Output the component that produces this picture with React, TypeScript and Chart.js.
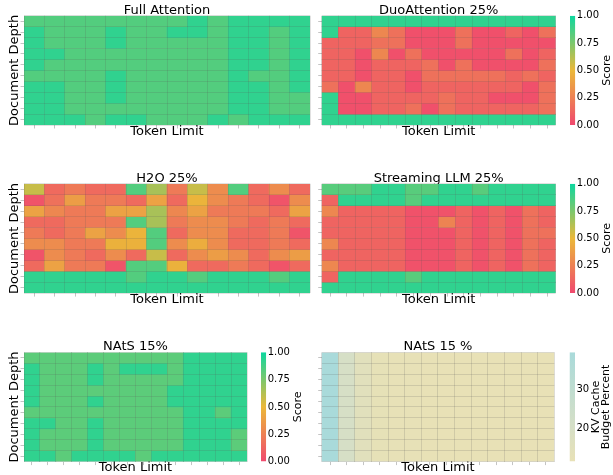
import React, { useEffect, useRef } from 'react';
import { Chart, registerables } from 'chart.js';

Chart.register(...registerables);
Chart.defaults.font.family = '"DejaVu Sans", sans-serif';
Chart.defaults.color = '#000';

// ---- data ----
const tokenLimits = ['1', '2', '3', '4', '5', '6', '7', '8', '9', '10', '11', '12', '13', '14'];
const depthLabels = ['0', '1', '2', '3', '4', '5', '6', '7', '8', '9'];

const fullAttention: number[][] = [
  [0.84, 0.84, 0.84, 0.84, 0.84, 0.84, 0.84, 0.84, 0.92, 0.84, 0.92, 0.92, 0.92, 0.92],
  [0.92, 0.84, 0.84, 0.84, 0.92, 0.84, 0.84, 0.92, 0.92, 0.84, 0.92, 0.92, 0.84, 0.92],
  [0.92, 0.84, 0.84, 0.84, 0.92, 0.84, 0.84, 0.84, 0.84, 0.84, 0.92, 0.92, 0.84, 0.92],
  [0.92, 0.92, 0.84, 0.84, 0.84, 0.84, 0.84, 0.84, 0.84, 0.84, 0.92, 0.92, 0.84, 0.92],
  [0.92, 0.84, 0.84, 0.84, 0.84, 0.84, 0.84, 0.84, 0.84, 0.84, 0.92, 0.92, 0.84, 0.92],
  [0.84, 0.84, 0.84, 0.84, 0.92, 0.84, 0.84, 0.84, 0.84, 0.84, 0.92, 0.84, 0.84, 0.92],
  [0.92, 0.92, 0.84, 0.84, 0.92, 0.84, 0.84, 0.84, 0.84, 0.84, 0.92, 0.92, 0.84, 0.92],
  [0.92, 0.92, 0.84, 0.84, 0.92, 0.84, 0.84, 0.84, 0.84, 0.84, 0.92, 0.92, 0.84, 0.84],
  [0.92, 0.92, 0.84, 0.84, 0.84, 0.84, 0.84, 0.84, 0.84, 0.84, 0.92, 0.92, 0.84, 0.84],
  [0.92, 0.92, 0.92, 0.84, 0.92, 0.92, 0.84, 0.84, 0.84, 0.92, 0.84, 0.92, 0.92, 0.92],
];

const duoAttention: number[][] = [
  [0.92, 0.92, 0.92, 0.92, 0.92, 0.92, 0.92, 0.92, 0.92, 0.92, 0.92, 0.92, 0.92, 0.92],
  [0.92, 0.12, 0.12, 0.28, 0.18, 0.03, 0.03, 0.03, 0.18, 0.03, 0.03, 0.12, 0.03, 0.18],
  [0.12, 0.12, 0.12, 0.18, 0.18, 0.03, 0.03, 0.03, 0.18, 0.03, 0.03, 0.03, 0.03, 0.03],
  [0.12, 0.12, 0.03, 0.28, 0.03, 0.18, 0.03, 0.03, 0.03, 0.03, 0.03, 0.18, 0.03, 0.12],
  [0.12, 0.12, 0.03, 0.12, 0.12, 0.12, 0.18, 0.03, 0.18, 0.03, 0.03, 0.03, 0.03, 0.18],
  [0.12, 0.12, 0.03, 0.12, 0.12, 0.03, 0.18, 0.18, 0.18, 0.18, 0.18, 0.12, 0.18, 0.12],
  [0.18, 0.03, 0.28, 0.12, 0.12, 0.03, 0.12, 0.12, 0.12, 0.12, 0.12, 0.12, 0.03, 0.18],
  [0.92, 0.03, 0.03, 0.12, 0.12, 0.12, 0.12, 0.18, 0.12, 0.12, 0.03, 0.03, 0.03, 0.18],
  [0.92, 0.03, 0.03, 0.12, 0.12, 0.18, 0.03, 0.18, 0.12, 0.12, 0.12, 0.12, 0.12, 0.18],
  [0.92, 0.92, 0.92, 0.92, 0.92, 0.92, 0.92, 0.92, 0.92, 0.92, 0.92, 0.92, 0.92, 0.92],
];

const h2o: number[][] = [
  [0.58, 0.15, 0.22, 0.15, 0.15, 0.84, 0.65, 0.22, 0.58, 0.30, 0.84, 0.15, 0.30, 0.15],
  [0.05, 0.18, 0.38, 0.22, 0.22, 0.15, 0.40, 0.15, 0.48, 0.30, 0.22, 0.15, 0.05, 0.30],
  [0.40, 0.28, 0.22, 0.22, 0.40, 0.40, 0.65, 0.28, 0.40, 0.22, 0.22, 0.22, 0.15, 0.40],
  [0.15, 0.15, 0.22, 0.22, 0.22, 0.84, 0.65, 0.22, 0.30, 0.30, 0.22, 0.15, 0.22, 0.15],
  [0.22, 0.15, 0.22, 0.40, 0.30, 0.48, 0.84, 0.15, 0.30, 0.30, 0.15, 0.15, 0.22, 0.05],
  [0.30, 0.30, 0.22, 0.22, 0.47, 0.47, 0.84, 0.30, 0.45, 0.30, 0.15, 0.15, 0.22, 0.15],
  [0.05, 0.30, 0.22, 0.15, 0.30, 0.15, 0.58, 0.15, 0.30, 0.38, 0.30, 0.15, 0.30, 0.38],
  [0.15, 0.40, 0.22, 0.22, 0.05, 0.84, 0.84, 0.47, 0.15, 0.15, 0.22, 0.15, 0.05, 0.15],
  [0.92, 0.92, 0.92, 0.92, 0.92, 0.84, 0.92, 0.92, 0.84, 0.92, 0.92, 0.92, 0.84, 0.92],
  [0.92, 0.92, 0.92, 0.92, 0.92, 0.92, 0.92, 0.92, 0.92, 0.92, 0.92, 0.92, 0.92, 0.92],
];

const streamingLLM: number[][] = [
  [0.83, 0.83, 0.83, 0.92, 0.92, 0.83, 0.83, 0.92, 0.92, 0.83, 0.92, 0.92, 0.92, 0.92],
  [0.12, 0.92, 0.92, 0.92, 0.92, 0.83, 0.92, 0.92, 0.92, 0.92, 0.92, 0.92, 0.92, 0.92],
  [0.28, 0.12, 0.12, 0.12, 0.12, 0.04, 0.04, 0.04, 0.12, 0.04, 0.12, 0.04, 0.18, 0.12],
  [0.12, 0.12, 0.12, 0.12, 0.12, 0.04, 0.04, 0.26, 0.12, 0.04, 0.12, 0.04, 0.18, 0.12],
  [0.12, 0.12, 0.12, 0.12, 0.12, 0.04, 0.04, 0.04, 0.12, 0.04, 0.12, 0.04, 0.18, 0.18],
  [0.28, 0.12, 0.12, 0.12, 0.12, 0.04, 0.04, 0.04, 0.12, 0.04, 0.12, 0.04, 0.18, 0.12],
  [0.12, 0.12, 0.12, 0.12, 0.12, 0.04, 0.04, 0.04, 0.12, 0.04, 0.12, 0.04, 0.18, 0.12],
  [0.28, 0.12, 0.12, 0.12, 0.12, 0.04, 0.04, 0.04, 0.12, 0.04, 0.12, 0.04, 0.18, 0.12],
  [0.12, 0.92, 0.92, 0.92, 0.92, 0.83, 0.92, 0.92, 0.92, 0.92, 0.92, 0.92, 0.92, 0.92],
  [0.92, 0.92, 0.92, 0.92, 0.92, 0.92, 0.92, 0.92, 0.92, 0.92, 0.92, 0.92, 0.92, 0.92],
];

const nats: number[][] = [
  [0.82, 0.82, 0.82, 0.82, 0.82, 0.82, 0.82, 0.82, 0.82, 0.82, 0.92, 0.92, 0.92, 0.92],
  [0.92, 0.82, 0.82, 0.82, 0.92, 0.82, 0.92, 0.92, 0.92, 0.82, 0.92, 0.92, 0.92, 0.92],
  [0.92, 0.82, 0.82, 0.82, 0.92, 0.82, 0.82, 0.82, 0.82, 0.82, 0.92, 0.92, 0.92, 0.92],
  [0.92, 0.82, 0.82, 0.82, 0.82, 0.82, 0.82, 0.82, 0.82, 0.92, 0.92, 0.92, 0.92, 0.92],
  [0.92, 0.82, 0.82, 0.82, 0.92, 0.82, 0.82, 0.82, 0.82, 0.92, 0.92, 0.92, 0.92, 0.92],
  [0.82, 0.82, 0.82, 0.82, 0.82, 0.82, 0.82, 0.82, 0.82, 0.82, 0.92, 0.92, 0.82, 0.92],
  [0.92, 0.92, 0.82, 0.82, 0.92, 0.82, 0.82, 0.82, 0.82, 0.82, 0.92, 0.92, 0.92, 0.92],
  [0.92, 0.82, 0.82, 0.82, 0.92, 0.82, 0.82, 0.82, 0.82, 0.82, 0.92, 0.92, 0.92, 0.82],
  [0.92, 0.82, 0.82, 0.82, 0.92, 0.82, 0.82, 0.82, 0.82, 0.82, 0.92, 0.92, 0.92, 0.82],
  [0.92, 0.92, 0.82, 0.92, 0.92, 0.92, 0.92, 0.82, 0.92, 0.92, 0.92, 0.92, 0.92, 0.92],
];

// KV cache budget percent per token-limit column (same at every depth)
const natsBudget = [39.2, 20.5, 15.0, 12.6, 12.3, 12.1, 12.0, 11.9, 11.8, 11.8, 11.8, 11.8, 11.8, 11.8];
const budgetTicks = [20, 30];
const scoreTicks = [0, 0.25, 0.5, 0.75, 1];

// ---- colour maps ----
const scoreStops: [number, string][] = [[0, '#F0496E'], [0.5, '#EBB839'], [1, '#0CD79F']];
const budgetStops: [number, string][] = [[0, '#E8E1B6'], [0.317, '#D6DFC6'], [1, '#A9DADA']];

function makeCmap(stops: [number, string][]) {
  const s = stops.map(([t, h]) => [t, parseInt(h.slice(1, 3), 16), parseInt(h.slice(3, 5), 16), parseInt(h.slice(5, 7), 16)]);
  return (t: number) => {
    const x = Math.max(0, Math.min(1, t));
    let i = 0;
    while (i < s.length - 2 && x > s[i + 1][0]) i++;
    const a = s[i], b = s[i + 1];
    const f = (x - a[0]) / (b[0] - a[0]);
    const c = [1, 2, 3].map((k) => Math.round(a[k] + (b[k] - a[k]) * f));
    return `rgb(${c[0]},${c[1]},${c[2]})`;
  };
}
const scoreCmap = makeCmap(scoreStops);
const budgetCmap = makeCmap(budgetStops);
const budgetMin = Math.min(...natsBudget);
const budgetMax = Math.max(...natsBudget);
const scoreColor = (v: number) => scoreCmap(v);
const budgetColor = (v: number) => budgetCmap((v - budgetMin) / (budgetMax - budgetMin));

const GRID = 'rgba(90,90,90,0.18)';
const TICK = 'rgba(90,90,90,0.45)';

type Rect = { ax: number; ay: number; aw: number; ah: number };
type Box = { left: number; top: number; width: number; height: number };

function Heatmap({ values, title, showY, colorOf, area, box }: { values: number[][]; title: string; showY: boolean; colorOf: (v: number) => string; area: Rect; box: Box }) {
  const ref = useRef<HTMLCanvasElement>(null);
  useEffect(() => {
    const { ax, ay, aw, ah } = area;
    const { left, top, width, height } = box;
    const tTop = ay - 5.5 - top - 5.2;
    const tBottom = ay - top - 10.4 - tTop;
    const xH = 13;
    const padRight = left + width - (ax + aw);
    const padBottom = height - (ay + ah - top) - xH;
    const yW = ax - left;
    const chart = new Chart(ref.current as HTMLCanvasElement, {
      type: 'bar',
      data: {
        labels: tokenLimits,
        datasets: values.map((row, r) => ({
          data: row.map(() => [r, r + 1]),
          backgroundColor: row.map(colorOf),
          borderWidth: 0,
          grouped: false,
          barPercentage: 1,
          categoryPercentage: 1,
          xAxisID: 'x',
          yAxisID: 'y',
        })),
      } as any,
      options: {
        responsive: false,
        animation: false,
        devicePixelRatio: 1,
        events: [],
        layout: { padding: { left: 0, top: 0, right: padRight, bottom: padBottom } },
        plugins: {
          legend: { display: false },
          tooltip: { enabled: false },
          title: {
            display: true,
            text: title,
            fullSize: false,
            color: '#000',
            font: { size: 13, lineHeight: 0.8, weight: 'normal' },
            padding: { top: tTop, bottom: tBottom },
          },
        },
        scales: {
          x: {
            type: 'category',
            offset: true,
            grid: { offset: true, z: 1, drawTicks: false, color: GRID, lineWidth: 1 },
            ticks: { display: false },
            border: { display: false },
            afterFit: (s: any) => { s.height = 0; },
          },
          xt: {
            type: 'category',
            labels: tokenLimits,
            position: 'bottom',
            offset: true,
            grid: { offset: false, drawOnChartArea: false, tickLength: 3.5, color: TICK, lineWidth: 0.8 },
            ticks: { display: false },
            border: { display: false },
            title: { display: true, text: 'Token Limit', color: '#000', font: { size: 13, lineHeight: 1 }, padding: 0 },
            afterFit: (s: any) => { s.height = xH; },
          },
          y: {
            type: 'linear',
            min: 0,
            max: depthLabels.length,
            reverse: true,
            ticks: { display: false, stepSize: 1 },
            grid: { z: 1, drawTicks: false, color: GRID, lineWidth: 1 },
            border: { display: false },
            afterFit: (s: any) => { s.width = 0; },
          },
          yt: {
            type: 'category',
            labels: depthLabels,
            position: 'left',
            offset: true,
            grid: { offset: false, drawOnChartArea: false, tickLength: 3.5, color: TICK, lineWidth: 0.8 },
            ticks: { display: false },
            border: { display: false },
            title: { display: showY, text: 'Document Depth', color: '#000', font: { size: 13, lineHeight: 1.2 }, padding: { top: 6.7, bottom: 0 } },
            afterFit: (s: any) => { s.width = yW; },
          },
        },
      } as any,
    });
    return () => chart.destroy();
  }, []);
  return (
    <canvas
      ref={ref}
      width={box.width}
      height={box.height}
      style={{ position: 'absolute', left: box.left, top: box.top, width: box.width, height: box.height }}
    />
  );
}

function ColorBar({ stops, min, max, ticks, fmt, labels, labelOffsets, area, box }: { stops: [number, string][]; min: number; max: number; ticks: number[]; fmt: (v: number) => string; labels: string[]; labelOffsets: number[]; area: Rect; box: Box }) {
  const ref = useRef<HTMLCanvasElement>(null);
  useEffect(() => {
    const { ax, ay, aw, ah } = area;
    const { left, top, width, height } = box;
    const labelPlugin = {
      id: 'cbLabel',
      afterDraw(chart: any) {
        const ctx = chart.ctx;
        const ca = chart.chartArea;
        const cy = (ca.top + ca.bottom) / 2;
        ctx.save();
        ctx.fillStyle = '#000';
        ctx.font = '11px "DejaVu Sans", sans-serif';
        ctx.textAlign = 'center';
        ctx.textBaseline = 'middle';
        labels.forEach((t, i) => {
          ctx.save();
          ctx.translate(ca.right + labelOffsets[i], cy);
          ctx.rotate(-Math.PI / 2);
          ctx.fillText(t, 0, 0);
          ctx.restore();
        });
        ctx.restore();
      },
    };
    const chart = new Chart(ref.current as HTMLCanvasElement, {
      type: 'bar',
      data: {
        labels: ['cb'],
        datasets: [
          {
            data: [[min, max]],
            backgroundColor: (c: any) => {
              const ca = c.chart.chartArea;
              if (!ca) return stops[0][1];
              const g = c.chart.ctx.createLinearGradient(0, ca.bottom, 0, ca.top);
              stops.forEach(([t, col]) => g.addColorStop(t, col));
              return g;
            },
            borderWidth: 0,
            barPercentage: 1,
            categoryPercentage: 1,
            inflateAmount: 0,
          },
        ],
      } as any,
      options: {
        responsive: false,
        animation: false,
        devicePixelRatio: 1,
        events: [],
        layout: { padding: { left: ax - left, top: ay - top, right: 0, bottom: top + height - (ay + ah) } },
        plugins: { legend: { display: false }, tooltip: { enabled: false }, title: { display: false } },
        scales: {
          x: { type: 'category', display: false, offset: true },
          y: {
            type: 'linear',
            position: 'right',
            min,
            max,
            grid: { display: false, drawTicks: false, tickLength: 0 },
            border: { display: false },
            ticks: { color: '#000', font: { size: 10 }, padding: 1.5, callback: (v: any) => fmt(Number(v)) },
            afterBuildTicks: (s: any) => { s.ticks = ticks.map((v) => ({ value: v })); },
            afterFit: (s: any) => { s.width = left + width - (ax + aw); },
          },
        },
      } as any,
      plugins: [labelPlugin],
    });
    return () => chart.destroy();
  }, []);
  return (
    <canvas
      ref={ref}
      width={box.width}
      height={box.height}
      style={{ position: 'absolute', left: box.left, top: box.top, width: box.width, height: box.height }}
    />
  );
}

const budgetRows = depthLabels.map(() => natsBudget);

export default function App() {
  const AH = 109.3;
  const scoreFmt = (v: number) => v.toFixed(2);
  const budgetFmt = (v: number) => String(Math.round(v));
  return (
    <div style={{ position: 'fixed', left: 0, top: 0, width: 613, height: 475, overflow: 'hidden', background: '#fff' }}>
      <Heatmap values={fullAttention} title="Full Attention" showY colorOf={scoreColor}
        area={{ ax: 24, ay: 15.7, aw: 286, ah: AH }} box={{ left: 0, top: 0, width: 313, height: 140 }} />
      <Heatmap values={duoAttention} title="DuoAttention 25%" showY={false} colorOf={scoreColor}
        area={{ ax: 321.7, ay: 15.7, aw: 234, ah: AH }} box={{ left: 316, top: 0, width: 244, height: 140 }} />
      <ColorBar stops={scoreStops} min={0} max={1} ticks={scoreTicks} fmt={scoreFmt} labels={['Score']} labelOffsets={[32.3]}
        area={{ ax: 570, ay: 15.7, aw: 5.3, ah: AH }} box={{ left: 566, top: 7, width: 47, height: 126 }} />

      <Heatmap values={h2o} title="H2O 25%" showY colorOf={scoreColor}
        area={{ ax: 24, ay: 183.8, aw: 286, ah: AH }} box={{ left: 0, top: 168, width: 313, height: 141 }} />
      <Heatmap values={streamingLLM} title="Streaming LLM 25%" showY={false} colorOf={scoreColor}
        area={{ ax: 321.7, ay: 183.8, aw: 234, ah: AH }} box={{ left: 316, top: 168, width: 244, height: 141 }} />
      <ColorBar stops={scoreStops} min={0} max={1} ticks={scoreTicks} fmt={scoreFmt} labels={['Score']} labelOffsets={[32.3]}
        area={{ ax: 570, ay: 183.8, aw: 5.3, ah: AH }} box={{ left: 566, top: 175, width: 47, height: 126 }} />

      <Heatmap values={nats} title="NAtS 15%" showY colorOf={scoreColor}
        area={{ ax: 24, ay: 352.3, aw: 223, ah: AH }} box={{ left: 0, top: 336, width: 252, height: 139 }} />
      <ColorBar stops={scoreStops} min={0} max={1} ticks={scoreTicks} fmt={scoreFmt} labels={['Score']} labelOffsets={[32.3]}
        area={{ ax: 261, ay: 352.3, aw: 5.2, ah: AH }} box={{ left: 257, top: 344, width: 52, height: 126 }} />
      <Heatmap values={budgetRows} title="NAtS 15 %" showY={false} colorOf={budgetColor}
        area={{ ax: 321.7, ay: 352.3, aw: 232.6, ah: AH }} box={{ left: 316, top: 336, width: 244, height: 139 }} />
      <ColorBar stops={budgetStops} min={budgetMin} max={budgetMax} ticks={budgetTicks} fmt={budgetFmt}
        labels={['KV Cache', 'Budget Percent']} labelOffsets={[21, 31.5]}
        area={{ ax: 569.5, ay: 352.3, aw: 5.5, ah: AH }} box={{ left: 566, top: 344, width: 47, height: 126 }} />
    </div>
  );
}
